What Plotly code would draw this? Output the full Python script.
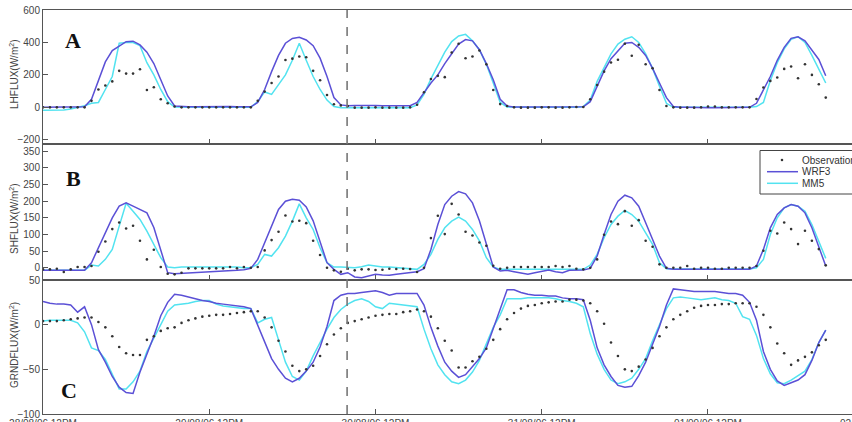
import plotly.graph_objects as go

# ---------------- data (hourly, hour 0 = 28/08/06 12PM) ----------------
hours = list(range(114))

A_wrf3 = [0,0,0,0,0,0,3,50,160,280,350,380,405,408,385,340,270,170,70,8,
          5,4,4,5,5,4,4,5,4,3,
          3,30,110,220,320,395,425,432,415,380,303,190,60,15,
          10,12,12,15,12,10,10,8,8,10,
          30,90,150,200,270,330,390,418,410,355,270,170,50,8,
          2,2,2,2,2,2,2,2,2,2,3,
          35,130,225,300,350,395,400,370,320,240,150,60,5,
          0,0,-2,-2,-2,-2,-2,-2,-2,-2,0,
          25,110,190,290,370,425,435,410,350,295,195]
A_mm5 = [-18,-18,-18,-16,-10,0,10,25,30,110,190,395,400,400,380,275,200,110,35,2,
         0,0,0,0,0,0,0,0,0,0,
         0,35,95,80,140,200,290,395,290,190,110,45,5,
         -2,-2,-2,-2,-2,-2,-2,-2,-2,-2,-2,
         15,80,175,260,340,405,440,450,410,355,265,150,30,2,
         0,0,0,0,0,0,0,0,0,0,5,
         45,160,250,330,390,420,435,400,330,240,130,25,0,
         0,0,0,0,0,0,0,0,0,0,0,
         5,30,165,275,360,420,435,400,320,230,150]
A_obs = [0,0,0,0,0,0,0,40,110,135,160,225,208,208,235,107,124,50,25,5,
         0,0,0,0,0,0,0,0,0,0,0,
         40,97,150,190,292,300,313,309,225,167,76,19,12,8,
         -2,-2,-2,0,-2,-2,-2,-2,0,
         16,93,175,194,186,338,392,303,313,350,265,107,20,8,
         0,-2,-2,-2,0,0,-2,-2,0,2,2,
         50,138,220,276,293,392,318,386,266,241,107,8,
         0,-2,-2,-2,0,5,5,0,0,0,0,0,
         51,122,163,184,237,252,179,266,200,142,60]

B_wrf3 = [-8,-8,-8,-8,-8,-8,-8,15,60,105,150,185,195,185,175,165,121,50,-15,-18,
          -17,-17,-15,-14,-13,-12,-11,-10,-8,-6,
          -2,25,75,130,175,200,206,203,183,141,81,15,-5,-20,-15,-28,-30,-25,-20,-22,-23,-20,-18,-15,-12,-3,
          55,130,190,215,229,222,195,141,75,2,-10,-8,-12,-15,-20,-15,-12,
          -7,-12,-15,-8,-7,-7,-2,
          35,100,160,200,218,210,185,135,85,35,-2,
          -5,-5,-5,-5,-5,-5,-5,-5,-5,-5,-5,-5,
          5,55,120,160,180,190,185,165,120,65,5]
B_mm5 = [-8,-8,-8,-8,-8,-8,-8,8,5,25,55,125,194,170,145,110,70,30,2,
         0,2,2,2,3,2,2,3,2,2,0,0,
         10,40,35,60,95,140,192,150,115,60,15,2,
         2,2,0,3,8,5,2,2,0,0,-2,-5,
         10,40,85,120,140,152,140,115,81,30,2,
         -5,-5,-5,-5,-5,-5,-5,-5,-5,-5,-5,-5,-5,
         8,40,90,130,155,172,160,140,105,70,15,-3,
         -4,-4,-4,-4,-4,-4,-4,-4,-4,-4,-4,-4,
         0,25,100,150,180,190,185,170,130,80,28]
B_obs = [-5,-5,-3,-13,-5,2,2,5,
         48,79,116,136,118,126,81,25,54,2,-18,-20,-15,
         -2,-2,-2,-2,-2,-2,2,-2,2,0,2,
         52,83,108,157,139,141,134,81,38,0,-8,-12,-3,-8,-5,-5,-7,-6,-3,-4,-3,-4,-13,0,
         89,156,101,192,160,108,97,76,66,6,-3,0,
         2,2,2,2,2,2,5,2,5,-3,-5,0,
         25,99,139,131,170,126,143,81,63,10,0,
         0,0,5,-3,0,0,-3,-3,0,0,0,0,
         5,51,111,103,136,116,71,111,81,56,7]

C_wrf3 = [26,24,23,23,22,14,20,0,-28,-42,-58,-70,-76,-77,
          -53,-33,-13,10,25,34,33,31,29,27,26,24,23,22,21,20,18,
          0,-18,-38,-50,-60,-64,-60,-52,-42,-25,-2,27,33,35,35,
          36,37,38,36,33,35,35,35,35,
          22,-3,-24,-42,-52,-59,-56,-47,-38,-26,-5,17,39,
          39,36,34,33,33,32,32,30,29,29,28,
          5,-26,-45,-58,-68,-70,-69,-57,-42,-22,-2,22,40,
          39,38,37,37,37,37,36,35,35,33,25,
          5,-30,-50,-63,-68,-65,-62,-56,-40,-20,-6]
C_mm5 = [4,5,5,5,5,2,-8,-26,-29,-39,-55,-72,-72,-64,
         -52,-30,-15,0,15,22,23,24,26,27,27,23,21,20,19,18,18,
         2,6,8,-17,-42,-58,-62,-52,-35,-20,-5,8,17,23,27,
         29,26,20,18,24,23,22,21,20,
         -5,-27,-45,-56,-64,-66,-62,-53,-40,-22,-3,11,29,
         29,29,30,30,30,30,29,27,26,24,20,
         -10,-33,-50,-62,-66,-64,-60,-50,-38,-18,0,18,30,
         31,30,29,28,29,30,28,27,24,9,6,
         -12,-38,-55,-65,-66,-62,-57,-52,-39,-20,-6]
C_obs = [4,4,4,5,6,7,8,8,3,-3,-13,-25,-32,-34,
         -34,-17,-13,-7,-4,-3,2,5,7,9,10,11,11,12,13,14,15,
         15,8,-3,-18,-30,-46,-52,-50,-46,-35,-22,-11,-4,2,4,
         6,8,10,11,12,12,14,15,17,
         15,9,-4,-18,-29,-48,-48,-41,-36,-27,-17,-5,6,
         13,18,21,22,24,25,26,26,28,28,27,
         24,15,1,-20,-35,-50,-52,-47,-39,-26,-13,-3,6,
         11,15,19,21,22,22,23,23,24,24,24,
         20,11,-3,-21,-32,-45,-40,-36,-31,-23,-17]

tick_hours = [0, 24, 48, 72, 96]
tick_labels = ["28/08/06 12PM", "29/08/06 12PM", "30/08/06 12PM", "31/08/06 12PM", "01/09/06 12PM"]
next_label = "02/09/06 12PM"
marker_hour = 43.9
panel_titles = ["LHFLUX(W/m<sup>2</sup>)", "SHFLUX(W/m<sup>2</sup>)", "GRNDFLUX(W/m<sup>2</sup>)"]
panel_letters = ["A", "B", "C"]
series_names = ["Observation", "WRF3", "MM5"]

# ---------------- styling ----------------
W, H = 852, 422
ML, MR, MT, MB = 43, 0, 10, 8
PW, PH = W - ML - MR, H - MT - MB
PX_PER_HOUR = 6.927
XMAX = PW / PX_PER_HOUR
WRF_C = "#5b50d6"
MM5_C = "#52e3f0"
OBS_C = "#333333"
AX_C = "#555555"
TXT_C = "#444444"
FONT = "Liberation Sans, Arial, sans-serif"

def xp(px):
    return (px - ML) / PW

def yp(py):
    return (H - MB - py) / PH

panels = [
    dict(obs=A_obs, wrf=A_wrf3, mm5=A_mm5, dom=(yp(144), 1.0), rng=[-226, 600],
         ticks=[-200, 0, 200, 400, 600]),
    dict(obs=B_obs, wrf=B_wrf3, mm5=B_mm5, dom=(yp(280), yp(144)), rng=[-37, 372],
         ticks=[0, 50, 100, 150, 200, 250, 300, 350]),
    dict(obs=C_obs, wrf=C_wrf3, mm5=C_mm5, dom=(0.0, yp(280)), rng=[-100, 50],
         ticks=[-100, -50, 0, 50]),
]

fig = go.Figure()
layout = {}
for i, p in enumerate(panels):
    sfx = "" if i == 0 else str(i + 1)
    xa, ya = "x" + sfx, "y" + sfx
    fig.add_trace(go.Scatter(x=hours, y=p["mm5"], mode="lines", name=series_names[2],
                             line=dict(color=MM5_C, width=1.5), xaxis=xa, yaxis=ya, showlegend=False))
    fig.add_trace(go.Scatter(x=hours, y=p["wrf"], mode="lines", name=series_names[1],
                             line=dict(color=WRF_C, width=1.5), xaxis=xa, yaxis=ya, showlegend=False))
    fig.add_trace(go.Scatter(x=hours, y=p["obs"], mode="markers", name=series_names[0],
                             marker=dict(color=OBS_C, size=2.6), xaxis=xa, yaxis=ya, showlegend=False))
    layout["xaxis" + sfx] = dict(
        domain=[0, 1], range=[0, XMAX], anchor=ya, tickvals=tick_hours, ticktext=tick_labels,
        showticklabels=(i == 2), ticks="inside", ticklen=5, tickcolor=AX_C,
        showline=True, linecolor=AX_C, linewidth=1, mirror=True, showgrid=False, zeroline=False,
        tickfont=dict(family=FONT, size=10, color=TXT_C))
    layout["yaxis" + sfx] = dict(
        domain=list(p["dom"]), range=p["rng"], anchor=xa, tickvals=p["ticks"],
        ticks="inside", ticklen=5, tickcolor=AX_C, showline=True, linecolor=AX_C, linewidth=1,
        mirror=False, showgrid=False, zeroline=False,
        tickfont=dict(family=FONT, size=10, color=TXT_C))

annotations = []
for title, yc in zip(panel_titles, [75, 219, 345]):
    annotations.append(dict(text=title, xref="paper", yref="paper", x=xp(14), y=yp(yc),
                            textangle=-90, showarrow=False, xanchor="center", yanchor="middle",
                            font=dict(family=FONT, size=10, color=TXT_C)))
for letter, (lx, ly) in zip(panel_letters, [(73, 41), (73, 178), (69, 390)]):
    annotations.append(dict(text="<b>%s</b>" % letter, xref="paper", yref="paper", x=xp(lx), y=yp(ly),
                            showarrow=False, xanchor="center", yanchor="middle",
                            font=dict(family="Liberation Serif, Times New Roman, serif", size=22, color="#111")))
annotations.append(dict(text=next_label, xref="paper", yref="paper", x=xp(ML + 120 * PX_PER_HOUR),
                        y=0, yshift=-2, xanchor="center", yanchor="top", showarrow=False,
                        font=dict(family=FONT, size=10, color=TXT_C)))
# legend texts
for name, ly in zip(series_names, [160, 171.7, 183.3]):
    annotations.append(dict(text=name, xref="paper", yref="paper", x=xp(800), y=yp(ly),
                            xanchor="left", yanchor="middle", showarrow=False,
                            font=dict(family=FONT, size=10, color="#333")))

shapes = [
    dict(type="line", xref="x", yref="paper", x0=marker_hour, x1=marker_hour, y0=0, y1=1,
         line=dict(color="#777", width=1.6, dash="dash")),
    dict(type="rect", xref="paper", yref="paper", x0=xp(760), x1=xp(870), y0=yp(194), y1=yp(150.5),
         line=dict(color="#444", width=1), fillcolor="white", layer="above"),
    dict(type="circle", xref="paper", yref="paper", x0=xp(780.7), x1=xp(783.3), y0=yp(161.3), y1=yp(158.7),
         line=dict(color=OBS_C, width=0), fillcolor=OBS_C, layer="above"),
    dict(type="line", xref="paper", yref="paper", x0=xp(767), x1=xp(798), y0=yp(171.7), y1=yp(171.7),
         line=dict(color=WRF_C, width=1.5), layer="above"),
    dict(type="line", xref="paper", yref="paper", x0=xp(767), x1=xp(798), y0=yp(183.3), y1=yp(183.3),
         line=dict(color=MM5_C, width=1.5), layer="above"),
]

fig.update_layout(
    width=W, height=H, margin=dict(l=ML, r=MR, t=MT, b=MB, autoexpand=False),
    paper_bgcolor="white", plot_bgcolor="white", showlegend=False,
    annotations=annotations, shapes=shapes, **layout)

fig.write_html("out.html")
